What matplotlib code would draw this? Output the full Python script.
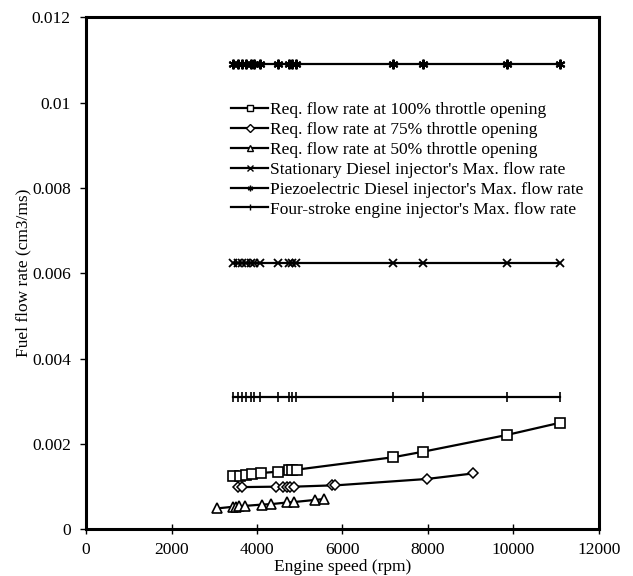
import matplotlib
matplotlib.use("Agg")
import matplotlib.pyplot as plt

plt.rcParams['font.family'] = ['Liberation Serif', 'DejaVu Serif']

# Data
rpm_100 = [3450, 3600, 3750, 3880, 4090, 4480, 4740, 4830, 4940, 7190, 7890, 9840, 11100]
flow_100 = [0.00124, 0.00126, 0.00128, 0.00130, 0.00132, 0.00135, 0.00138, 0.00139, 0.00140,
            0.00169, 0.00182, 0.00221, 0.00250]

rpm_75 = [3560, 3650, 4450, 4600, 4700, 4780, 4860, 5750, 5830, 7970, 9060]
flow_75 = [0.00099, 0.00099, 0.00100, 0.00100, 0.00100, 0.00100, 0.00100, 0.00103, 0.00103,
           0.00118, 0.00131]

rpm_50 = [3060, 3450, 3510, 3590, 3720, 4110, 4320, 4710, 4870, 5360, 5570]
flow_50 = [0.00049, 0.00053, 0.00053, 0.00054, 0.00055, 0.00058, 0.00059, 0.00063, 0.00064,
           0.00069, 0.00071]

rpm_inj = [3450, 3550, 3650, 3750, 3850, 3920, 4070, 4480, 4750, 4820, 4920, 7190, 7890, 9840, 11100]
flow_stationary = [0.00625] * len(rpm_inj)
flow_piezo = [0.0109] * len(rpm_inj)
flow_fourstroke = [0.0031] * len(rpm_inj)

labels = [
    "Req. flow rate at 100% throttle opening",
    "Req. flow rate at 75% throttle opening",
    "Req. flow rate at 50% throttle opening",
    "Stationary Diesel injector's Max. flow rate",
    "Piezoelectric Diesel injector's Max. flow rate",
    "Four-stroke engine injector's Max. flow rate",
]
x_ticks = [0, 2000, 4000, 6000, 8000, 10000, 12000]
y_ticks = [0, 0.002, 0.004, 0.006, 0.008, 0.01, 0.012]
y_ticklabels = ["0", "0.002", "0.004", "0.006", "0.008", "0.01", "0.012"]

fig = plt.figure(figsize=(6.33, 5.76), dpi=100)
ax = fig.add_axes([0.136, 0.081, 0.810, 0.889])

lw = 1.6
ax.plot(rpm_100, flow_100, color='black', lw=lw, marker='s', ms=7, mfc='white', mew=1.2, label=labels[0])
ax.plot(rpm_75, flow_75, color='black', lw=lw, marker='D', ms=5.5, mfc='white', mew=1.1, label=labels[1])
ax.plot(rpm_50, flow_50, color='black', lw=lw, marker='^', ms=7, mfc='white', mew=1.2, label=labels[2])
ax.plot(rpm_inj, flow_stationary, color='black', lw=lw, marker='x', ms=6, mew=1.3, label=labels[3])
ax.plot(rpm_inj, flow_piezo, color='black', lw=lw, marker=(6, 2, 0), ms=7, mew=1.5, label=labels[4])
ax.plot(rpm_inj, flow_fourstroke, color='black', lw=lw, marker='|', ms=7, mew=1.2, label=labels[5])

ax.set_xlim(0, 12000)
ax.set_ylim(0, 0.012)
ax.set_xticks(x_ticks)
ax.set_xticklabels([str(v) for v in x_ticks])
ax.set_yticks(y_ticks)
ax.set_yticklabels(y_ticklabels)
ax.tick_params(axis='x', direction='inout', length=7, width=1, labelsize=12.5, colors='black', pad=5.5)
ax.tick_params(axis='y', direction='out', length=4, width=1, labelsize=12.5, colors='black', pad=7)

for s in ax.spines.values():
    s.set_linewidth(2.2)
    s.set_color('black')

ax.set_xlabel("Engine speed (rpm)", fontsize=12.5, labelpad=1)
ax.set_ylabel("Fuel flow rate (cm3/ms)", fontsize=12.5, labelpad=0)

leg = ax.legend(loc='upper left', bbox_to_anchor=(0.27, 0.849), frameon=False, fontsize=12.5,
                handlelength=2.1, handletextpad=0.1, labelspacing=0.22, borderaxespad=0)
for h in leg.legend_handles:
    h.set_markersize(4)
    h.set_markeredgewidth(1.0)

fig.savefig("out.png", dpi=100)
